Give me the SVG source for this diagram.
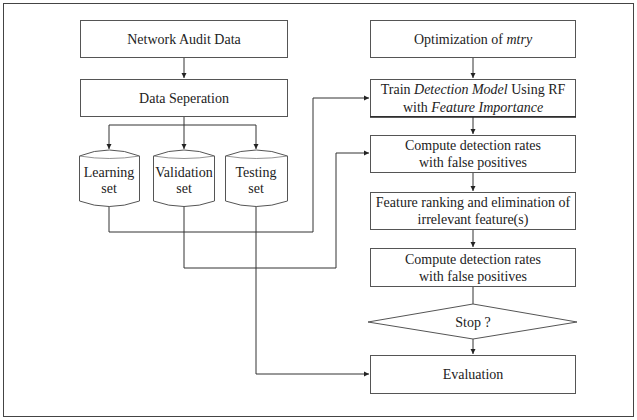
<svg xmlns="http://www.w3.org/2000/svg" width="637" height="420" viewBox="0 0 637 420">
<defs>
<marker id="ah" markerWidth="6" markerHeight="6" refX="5" refY="3" orient="auto" markerUnits="userSpaceOnUse">
<path d="M0,0.5 L5,3 L0,5.5 Z" fill="#222"/>
</marker>
</defs>
<style>
.box{fill:#fff;stroke:#555;stroke-width:1}
.cap{fill:none;stroke:#777;stroke-width:0.8}
.t{font-family:'Liberation Serif','Times New Roman',serif;font-size:14px;fill:#222;text-anchor:middle}
.i{font-style:italic}
.c{fill:none;stroke:#333;stroke-width:1}
</style>
<rect x="0" y="0" width="637" height="420" fill="#fff"/>
<rect x="3.5" y="3.5" width="630" height="413" fill="none" stroke="#444" stroke-width="1"/>

<g id="connectors">
<path class="c" d="M184,58 V78" marker-end="url(#ah)"/>
<path class="c" d="M184,116 V149" marker-end="url(#ah)"/>
<path class="c" d="M184,125 H109 V149" marker-end="url(#ah)"/>
<path class="c" d="M184,125 H256 V149" marker-end="url(#ah)"/>
<path class="c" d="M109,206 V232 H313 V98 H369" marker-end="url(#ah)"/>
<path class="c" d="M184,206 V268 H336 V153 H369" marker-end="url(#ah)"/>
<path class="c" d="M256,206 V374 H369" marker-end="url(#ah)"/>
<path class="c" d="M473,58 V78" marker-end="url(#ah)"/>
<path class="c" d="M473,117 V134" marker-end="url(#ah)"/>
<path class="c" d="M473,172 V191" marker-end="url(#ah)"/>
<path class="c" d="M473,229 V247" marker-end="url(#ah)"/>
<path class="c" d="M473,287 V304"/>
<path class="c" d="M473,339 V354" marker-end="url(#ah)"/>
</g>

<g id="network-audit-data">
<rect class="box" x="80.5" y="20.5" width="207" height="37"/>
<text class="t" x="184" y="44">Network Audit Data</text>
</g>
<g id="data-seperation">
<rect class="box" x="80.5" y="79.5" width="207" height="37"/>
<text class="t" x="184" y="103">Data Seperation</text>
</g>

<g id="learning-set">
<path class="box" d="M79.5,156 Q109,144 139.5,156 V201 Q109,212 79.5,201 Z"/>
<path class="cap" d="M79.5,156 Q109,161 139.5,156"/>
<text class="t" x="109" y="177">Learning</text>
<text class="t" x="109" y="193">set</text>
</g>
<g id="validation-set">
<path class="box" d="M153.5,156 Q184,144 214.5,156 V201 Q184,212 153.5,201 Z"/>
<path class="cap" d="M153.5,156 Q184,161 214.5,156"/>
<text class="t" x="184" y="177">Validation</text>
<text class="t" x="184" y="193">set</text>
</g>
<g id="testing-set">
<path class="box" d="M225.5,156 Q256,144 287.5,156 V201 Q256,212 225.5,201 Z"/>
<path class="cap" d="M225.5,156 Q256,161 287.5,156"/>
<text class="t" x="256" y="177">Testing</text>
<text class="t" x="256" y="193">set</text>
</g>

<g id="optimization">
<rect class="box" x="370.5" y="20.5" width="205" height="37"/>
<text class="t" x="473" y="44">Optimization of <tspan class="i">mtry</tspan></text>
</g>
<g id="train">
<rect class="box" x="370.5" y="79.5" width="205" height="37"/>
<line x1="370" y1="117" x2="576" y2="117" stroke="#222" stroke-width="1.5"/>
<text class="t" x="473" y="94">Train <tspan class="i">Detection Model</tspan> Using RF</text>
<text class="t" x="473" y="112">with <tspan class="i">Feature Importance</tspan></text>
</g>
<g id="compute1">
<rect class="box" x="370.5" y="135.5" width="205" height="37"/>
<text class="t" x="473" y="150">Compute detection rates</text>
<text class="t" x="473" y="167">with false positives</text>
</g>
<g id="feature-ranking">
<rect class="box" x="370.5" y="192.5" width="205" height="37"/>
<text class="t" x="473" y="207">Feature ranking and elimination of</text>
<text class="t" x="473" y="224">irrelevant feature(s)</text>
</g>
<g id="compute2">
<rect class="box" x="370.5" y="248.5" width="205" height="38"/>
<text class="t" x="473" y="264">Compute detection rates</text>
<text class="t" x="473" y="281">with false positives</text>
</g>
<g id="stop">
<path class="box" d="M473,304 L577,322 L473,339 L368,322 Z"/>
<text class="t" x="473" y="327">Stop ?</text>
</g>
<g id="evaluation">
<rect class="box" x="370.5" y="355.5" width="205" height="38"/>
<text class="t" x="473" y="379">Evaluation</text>
</g>
</svg>
